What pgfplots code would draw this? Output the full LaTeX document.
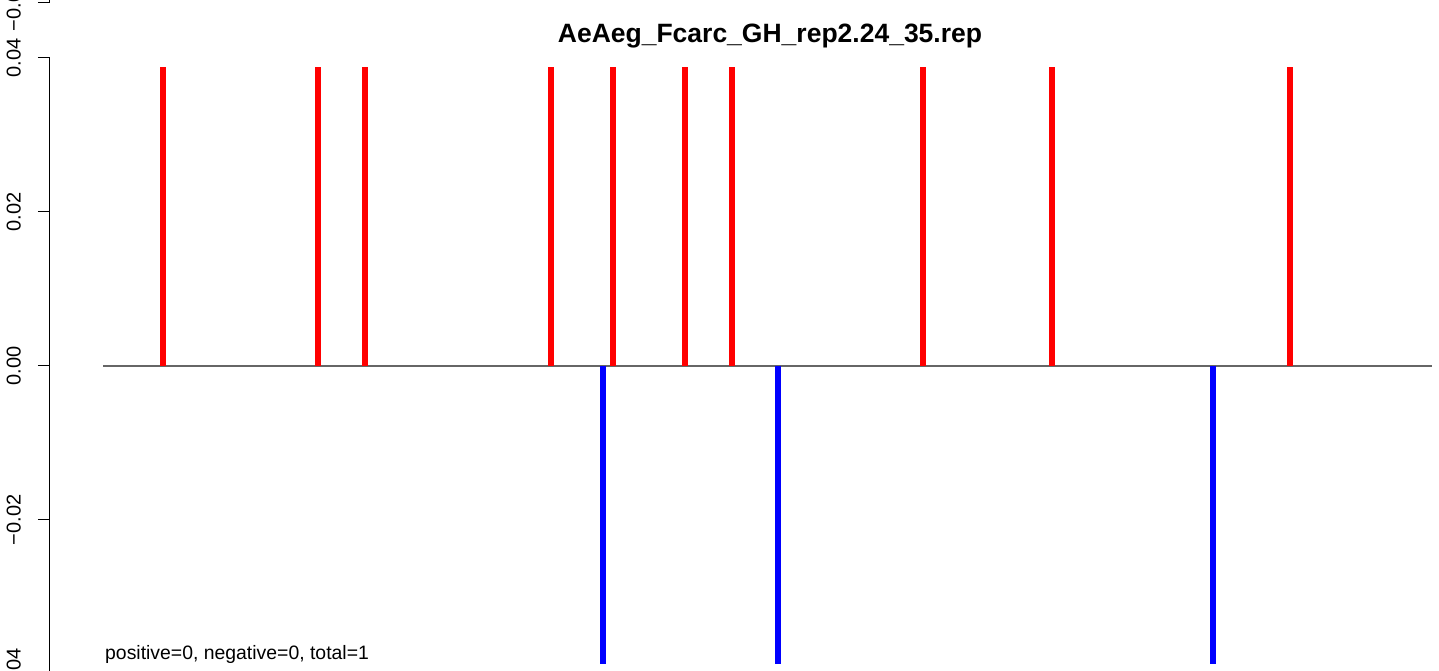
\documentclass[border=0pt]{standalone}
\usepackage{fontspec}
\setmainfont{Liberation Sans}
\usepackage{pgfplots}
\pgfplotsset{compat=1.18}
\definecolor{rred}{RGB}{255,0,0}
\definecolor{rblue}{RGB}{0,0,255}
\definecolor{basegray}{RGB}{102,102,102}
\pgfplotsset{rpanel/.style={
  scale only axis, width=1389pt, height=616pt,
  xmin=50, xmax=1439, ymin=-0.04, ymax=0.04,
  axis y line=left, axis x line=none,
  axis line style={-, line width=1pt, black},
  tick style={line width=1pt, black},
  major tick length=12pt, tick align=outside,
  xtick=\empty, scaled y ticks=false,
  yticklabel style={xshift=-17pt, rotate=90, anchor=south, inner sep=0pt, font=\fontsize{20}{24}\selectfont},
  clip=false,
}}
\begin{document}
\begin{tikzpicture}[x=1pt,y=1pt]
\begin{axis}[rpanel, at={(50pt,-3pt)}, anchor=south west,
  ytick={-0.04,-0.02,0,0.02,0.04},
  yticklabels={−0.04,−0.02,0.00,0.02,0.04}]
\addplot[basegray, line width=1.2pt, forget plot] coordinates {(103,0) (1432,0)};
\addplot[ycomb, rred, line width=6pt, line cap=butt, mark=none] coordinates {
(163,0.0388) (318,0.0388) (365,0.0388) (551,0.0388) (613,0.0388)
(685,0.0388) (732,0.0388) (923,0.0388) (1052,0.0388) (1290,0.0388)};
\addplot[ycomb, rblue, line width=6pt, line cap=butt, mark=none] coordinates {
(603,-0.0387) (778,-0.0387) (1213,-0.0387)};
\node[anchor=base, font=\fontsize{26.5}{30}\selectfont\bfseries] at (axis cs:770,0.04204) {AeAeg\_Fcarc\_GH\_rep2.24\_35.rep};
\node[anchor=base west, inner sep=0pt, font=\fontsize{19.4}{23}\selectfont] at (axis cs:105,-0.0381) {positive=0, negative=0, total=1};
\end{axis}
\begin{axis}[rpanel, at={(50pt,668pt)}, anchor=south west,
  ytick={-0.04}, yticklabels={−0.04},
  yticklabel style={xshift=-3pt}]
\addplot[draw=none, forget plot] coordinates {(100,0)};
\end{axis}
\pgfresetboundingbox
\useasboundingbox (0,0) rectangle (1439,671);
\end{tikzpicture}
\end{document}
